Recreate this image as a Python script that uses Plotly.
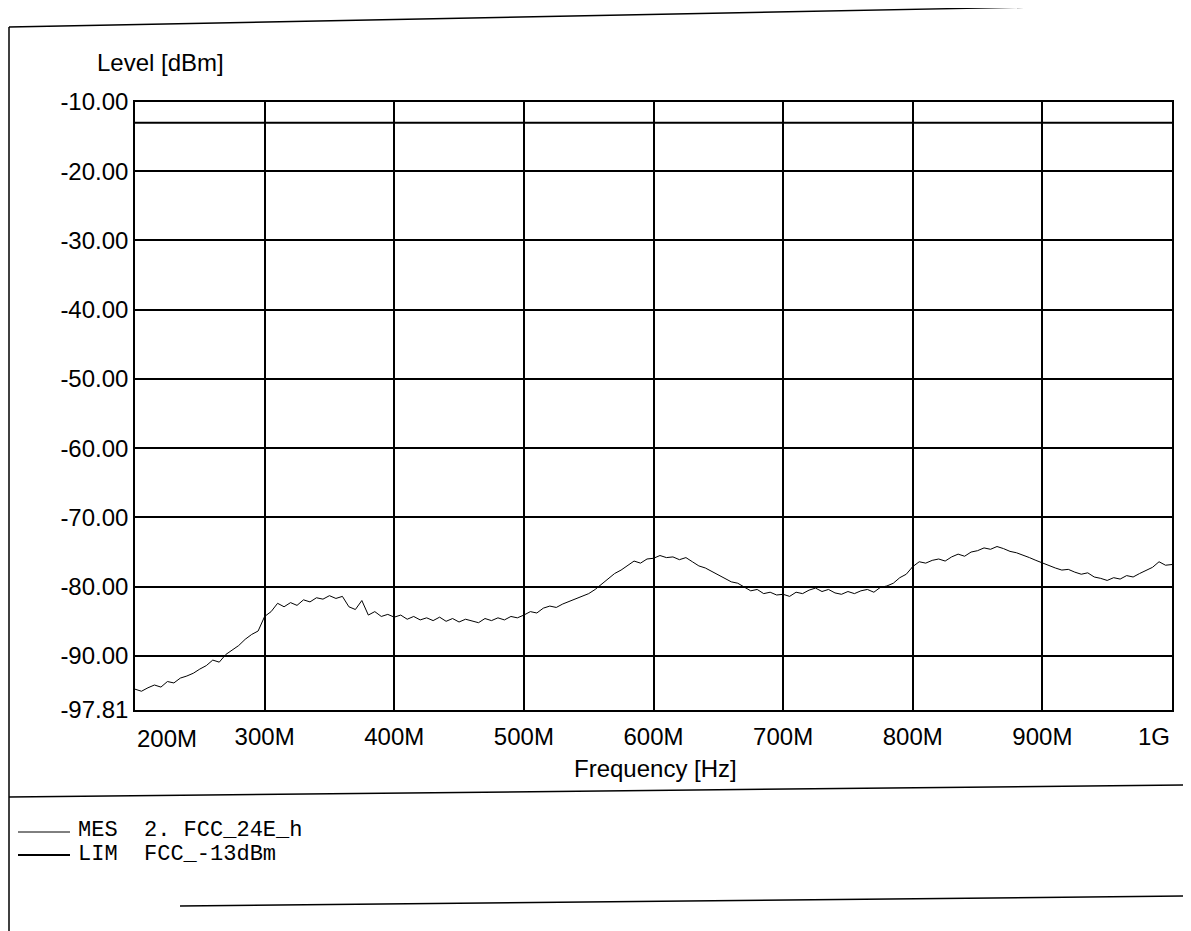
import plotly.graph_objects as go

# ---- data ----
freq_mhz = list(range(200, 1005, 5))  # measurement sweep, 5 MHz steps
mes_dbm = [
    -94.8, -95.1, -94.6, -94.2, -94.5, -93.7, -93.9, -93.2, -92.9, -92.5,
    -91.9, -91.4, -90.6, -90.9, -89.8, -89.2, -88.5, -87.6, -86.9, -86.4,
    -84.3, -83.6, -82.4, -82.9, -82.3, -82.7, -81.9, -82.2, -81.6, -81.8,
    -81.3, -81.7, -81.4, -82.9, -83.3, -82.0, -84.1, -83.6, -84.3, -84.0,
    -84.4, -84.1, -84.7, -84.3, -84.8, -84.5, -84.9, -84.4, -85.0, -84.6,
    -85.1, -84.7, -84.9, -85.2, -84.6, -84.9, -84.5, -84.8, -84.3, -84.5,
    -84.1, -83.6, -83.8, -83.1, -82.8, -83.0, -82.5, -82.1, -81.8, -81.3,
    -81.0, -80.4, -79.6, -78.8, -78.1, -77.6, -77.0, -76.3, -76.6, -76.0,
    -75.9, -75.5, -75.8, -75.7, -76.1, -75.8, -76.4, -77.0, -77.3, -77.8,
    -78.2, -78.7, -79.3, -79.5, -80.0, -80.6, -80.4, -81.0, -80.8, -81.2,
    -81.1, -81.4, -80.8, -81.0, -80.5, -80.2, -80.7, -80.4, -80.9, -81.1,
    -80.7, -81.0, -80.6, -80.4, -80.8, -80.1, -79.9, -79.5, -78.7, -78.2,
    -77.1, -76.4, -76.6, -76.2, -76.0, -76.3, -75.7, -75.3, -75.6, -75.0,
    -74.8, -74.4, -74.6, -74.2, -74.5, -74.9, -75.1, -75.4, -75.8, -76.2,
    -76.6, -77.0, -77.3, -77.6, -77.5, -77.9, -78.2, -78.0, -78.6, -78.8,
    -79.1, -78.7, -78.9, -78.4, -78.6, -78.1, -77.7, -77.2, -76.4, -76.9,
    -76.8,
]
lim_freq_mhz = [200, 1000]
lim_dbm = [-13.0, -13.0]

y_ticks = [-10, -20, -30, -40, -50, -60, -70, -80, -90, -97.81]
x_ticks_mhz = [300, 400, 500, 600, 700, 800, 900]
x_tick_labels = ["300M", "400M", "500M", "600M", "700M", "800M", "900M"]

mes_name = "MES\u00a0\u00a02.\u00a0FCC_24E_h"
lim_name = "LIM\u00a0\u00a0FCC_-13dBm"

# ---- layout geometry (page pixels; the page body adds an 8px offset) ----
OFF = 8
W, H = 1191 - OFF, 931 - OFF
L, R, T, B = 135, 1172, 102, 710   # page coords of the plot area
pw, ph = R - L, B - T


def px(x):
    return (x - L) / pw


def py(y):
    return (B - y) / ph


SANS = "Liberation Sans, Arial, sans-serif"
MONO = "Liberation Mono, Courier New, monospace"

fig = go.Figure()
fig.add_trace(go.Scatter(
    x=[f * 1e6 for f in freq_mhz], y=mes_dbm, mode="lines",
    line=dict(color="black", width=1), name=mes_name, showlegend=False,
))
fig.add_trace(go.Scatter(
    x=[f * 1e6 for f in lim_freq_mhz], y=lim_dbm, mode="lines",
    line=dict(color="black", width=2), name=lim_name, showlegend=False,
))

fig.update_layout(
    width=W, height=H,
    margin=dict(l=L - OFF, r=W - (R - OFF), t=T - OFF, b=H - (B - OFF), pad=0),
    paper_bgcolor="white", plot_bgcolor="white",
    font=dict(family=SANS, size=24, color="black"),
    showlegend=False,
)
fig.update_xaxes(
    range=[200e6, 1000e6],
    tickvals=[v * 1e6 for v in x_ticks_mhz], ticktext=x_tick_labels,
    showgrid=True, gridcolor="black", gridwidth=1.5,
    showline=True, linecolor="black", linewidth=1.5, mirror=True,
    ticks="", ticklabelstandoff=4, zeroline=False,
    tickfont=dict(family=SANS, size=24, color="black"),
)
fig.update_yaxes(
    range=[-97.81, -10],
    tickvals=y_ticks, ticktext=[f"{v:.2f}" for v in y_ticks],
    showgrid=True, gridcolor="black", gridwidth=1.5,
    showline=True, linecolor="black", linewidth=1.5, mirror=True,
    ticks="", ticklabelstandoff=0, zeroline=False,
    tickfont=dict(family=SANS, size=24, color="black"),
)

ann = []
ann.append(dict(x=200e6, xref="x", y=py(738), yref="paper", text="200M",
                showarrow=False, xanchor="left", yanchor="middle",
                font=dict(family=SANS, size=24, color="black")))
ann.append(dict(x=1000e6, xref="x", y=py(736), yref="paper", text="1G",
                showarrow=False, xanchor="right", yanchor="middle",
                font=dict(family=SANS, size=24, color="black")))
ann.append(dict(x=px(95), xref="paper", y=py(63), yref="paper", text="Level [dBm]",
                showarrow=False, xanchor="left", yanchor="middle",
                font=dict(family=SANS, size=24, color="black")))
ann.append(dict(x=px(655), xref="paper", y=py(768), yref="paper", text="Frequency [Hz]",
                showarrow=False, xanchor="center", yanchor="middle",
                font=dict(family=SANS, size=24, color="black")))
ann.append(dict(x=px(76), xref="paper", y=py(830), yref="paper", text=mes_name,
                showarrow=False, xanchor="left", yanchor="middle",
                font=dict(family=MONO, size=22, color="black")))
ann.append(dict(x=px(76), xref="paper", y=py(854), yref="paper", text=lim_name,
                showarrow=False, xanchor="left", yanchor="middle",
                font=dict(family=MONO, size=22, color="black")))

shapes = []


def seg(x0, y0, x1, y1, w=1.5):
    shapes.append(dict(type="line", xref="paper", yref="paper",
                       x0=px(x0), y0=py(y0), x1=px(x1), y1=py(y1),
                       line=dict(color="black", width=w)))


# outer frame and divider lines
seg(9, 27, 1191, 4)
seg(9, 27, 9, 931)
seg(9, 797, 1191, 785)
seg(180, 906, 1191, 896)
# legend line samples
seg(18, 832, 70, 832, 1)
seg(18, 855, 70, 855, 2)

fig.update_layout(annotations=ann, shapes=shapes)
fig.write_html("out.html")
